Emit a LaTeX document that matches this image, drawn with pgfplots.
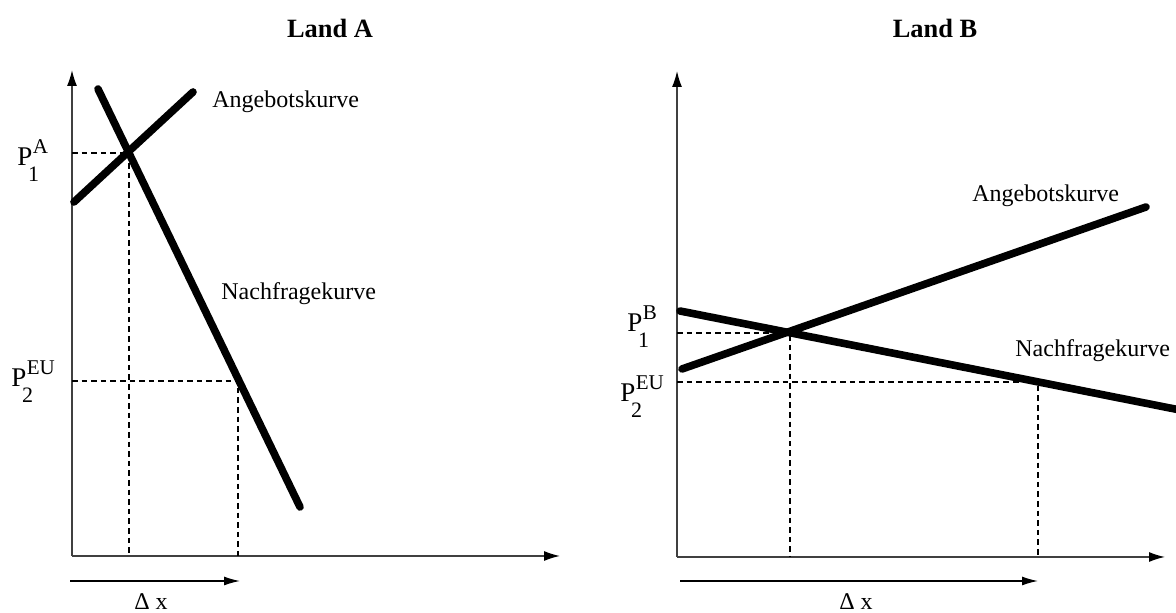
\documentclass[12pt,border=0pt]{standalone}
\usepackage{fontspec}
\setmainfont{Liberation Serif}
\usepackage{pgfplots}
\pgfplotsset{compat=1.18}
\usetikzlibrary{arrows.meta}

% one data unit = one pixel of the reference = 0.5pt
\pgfplotsset{
  panel/.style={
    scale only axis, width=244pt, height=243pt,
    xmin=0, xmax=488, ymin=0, ymax=486,
    enlargelimits=false, clip=false,
    axis lines=left,
    axis line style={black!75, line width=0.7pt, -{Latex[length=8pt,width=5pt,black]}},
    xtick=\empty, ytick=\empty,
    anchor=origin,
  },
  curve/.style={black, line width=3.8pt, line cap=round, no marks},
  guide/.style={black, line width=0.6pt, dash pattern=on 2.8pt off 2pt, no marks},
  shift/.style={black, line width=0.7pt, -{Latex[length=8pt,width=4.5pt]}, no marks},
}
\tikzset{lbl/.style={inner sep=0pt}}
\newcommand{\ttl}[1]{{\fontsize{13.2}{15}\selectfont\bfseries #1}}
% price label: P with subscript tucked under its bowl and raised superscript
\newcommand{\plab}[2]{{\fontsize{13.5}{15}\selectfont P}\kern-2.2pt\rlap{\raisebox{-7.6pt}{\fontsize{11}{12}\selectfont #1}}\kern2.4pt\raisebox{6pt}{\fontsize{10.5}{11}\selectfont #2}}

\begin{document}
\begin{tikzpicture}
\path[use as bounding box] (0,0) rectangle (588pt,306.5pt);

% ---- Land A ----
\begin{axis}[panel, at={(36pt,28.5pt)}]
  \addplot[curve] coordinates {(2,354) (121,464)};   % Angebot
  \addplot[curve] coordinates {(26,467) (228,49)};   % Nachfrage
  \addplot[guide] coordinates {(0,403) (57,403) (57,0)};
  \addplot[guide] coordinates {(0,175) (166,175) (166,0)};
  \addplot[shift] coordinates {(-2,-25) (168,-25)};
  \node[lbl, anchor=base] at (axis cs:258,518) {\ttl{Land A}};
  \node[lbl, anchor=base west] at (axis cs:140,448) {Angebotskurve};
  \node[lbl, anchor=base west] at (axis cs:149,256) {Nachfragekurve};
  \node[lbl, anchor=base west] at (axis cs:-55,390) {\plab{1}{A}};
  \node[lbl, anchor=base west] at (axis cs:-61,169) {\plab{2}{EU}};
  \node[lbl, anchor=base] at (axis cs:79,-54) {Δ x};
\end{axis}

% ---- Land B ----
\begin{axis}[panel, at={(338.5pt,28pt)}]
  \addplot[curve] coordinates {(5,188) (469,350)};   % Angebot
  \addplot[curve] coordinates {(3,246) (513,145)};   % Nachfrage
  \addplot[guide] coordinates {(0,224) (113,224) (113,0)};
  \addplot[guide] coordinates {(0,175) (361,175) (361,0)};
  \addplot[shift] coordinates {(3,-24) (361,-24)};
  \node[lbl, anchor=base] at (axis cs:258,519) {\ttl{Land B}};
  \node[lbl, anchor=base west] at (axis cs:295,355) {Angebotskurve};
  \node[lbl, anchor=base west] at (axis cs:338,200) {Nachfragekurve};
  \node[lbl, anchor=base west] at (axis cs:-50,225) {\plab{1}{B}};
  \node[lbl, anchor=base west] at (axis cs:-57,155) {\plab{2}{EU}};
  \node[lbl, anchor=base] at (axis cs:179,-53) {Δ x};
\end{axis}
\end{tikzpicture}
\end{document}
